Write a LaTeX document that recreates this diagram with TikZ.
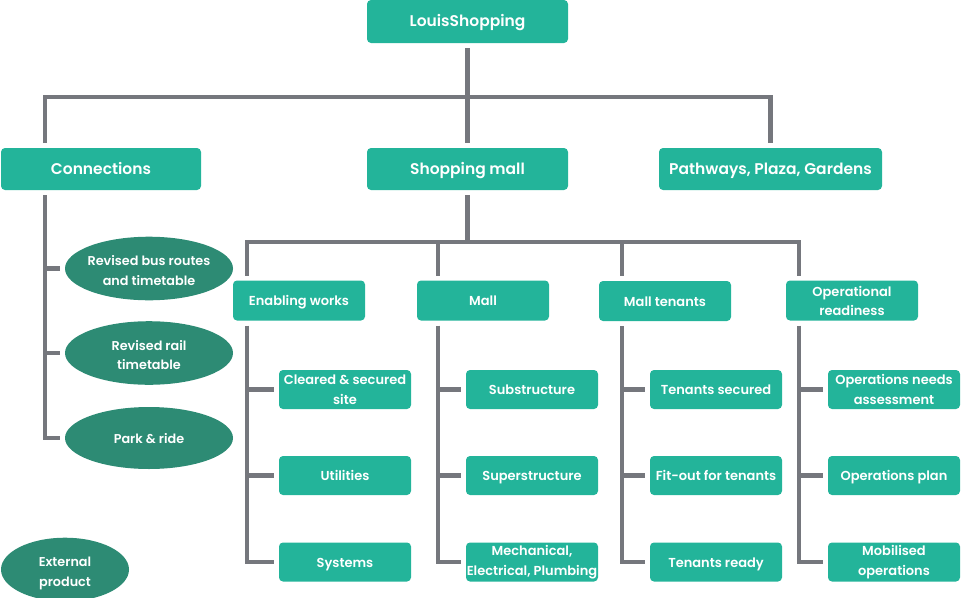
\documentclass[tikz,border=0pt]{standalone}
\usepackage{fontspec}
\setmainfont{Poppins}[UprightFont={* SemiBold}]
\usetikzlibrary{shapes.geometric}
\definecolor{boxc}{HTML}{23B49A}
\definecolor{ellc}{HTML}{2D8B74}
\definecolor{linec}{HTML}{75777D}
\newcommand{\tl}[2]{\makebox[0pt]{\begin{tabular}{@{}c@{}}\rule{0pt}{19.6pt}#1\\#2\end{tabular}}}
\tikzset{
  box/.style={fill=boxc, rounded corners=4pt, text=white, inner sep=0pt, outer sep=5pt, align=center},
  one/.style={text height=1.05em, text depth=0em},
  big/.style={box, one, minimum height=42pt, font=\fontsize{15.5}{18}\selectfont},
  mid/.style={box, minimum width=132pt, minimum height=40pt, font=\fontsize{13}{19}\selectfont},
  leaf/.style={box, minimum width=132pt, minimum height=39pt, font=\fontsize{13}{19.5}\selectfont},
  ext/.style={ellipse, fill=ellc, text=white, inner sep=0pt, outer sep=5pt, font=\fontsize{12.8}{19.5}\selectfont},
  link/.style={draw=linec, line width=4.6pt},
}
\begin{document}
\begin{tikzpicture}[x=1pt,y=-1pt]
\useasboundingbox (0,0) rectangle (961,597);
% level 1 and 2
\node[big, minimum width=201pt, minimum height=43pt] (top) at (467.5,21.5) {LouisShopping};
\node[big, minimum width=200pt] (conn) at (101,169) {Connections};
\node[big, minimum width=201pt] (sm) at (467.5,169) {Shopping mall};
\node[big, minimum width=223pt] (pp) at (770.5,169) {Pathways, Plaza, Gardens};
% level 3
\node[mid, one] (ew) at (299,300.5) {Enabling works};
\node[mid, one] (mall) at (483,300.5) {Mall};
\node[mid, one] (mt) at (665,301) {Mall tenants};
\node[mid] (or) at (852,300.5) {Operational\\readiness};
% leaves
\node[leaf] (e1) at (345,389.5) {Cleared \& secured\\site};
\node[leaf, one] (e2) at (345,475.5) {Utilities};
\node[leaf, one] (e3) at (345,562) {Systems};
\node[leaf, one] (m1) at (532,389.5) {Substructure};
\node[leaf, one] (m2) at (532,475.5) {Superstructure};
\node[leaf] (m3) at (532,562) {Mechanical,\\Electrical, Plumbing};
\node[leaf, one] (t1) at (716,389.5) {Tenants secured};
\node[leaf, one] (t2) at (716,475.5) {Fit-out for tenants};
\node[leaf, one] (t3) at (716,562) {Tenants ready};
\node[leaf] (o1) at (894,389.5) {Operations needs\\assessment};
\node[leaf, one] (o2) at (894,475.5) {Operations plan};
\node[leaf] (o3) at (894,562) {Mobilised\\operations};
% ellipses
\node[ext, minimum width=168pt, minimum height=63pt] (x1) at (149,268.5) {\tl{Revised bus routes}{and timetable}};
\node[ext, minimum width=168pt, minimum height=62pt] (x2) at (149,353) {\tl{Revised rail}{timetable}};
\node[ext, one, minimum width=168pt, minimum height=62pt] (x3) at (149,438) {\makebox[0pt]{Park \& ride}};
\node[ext, minimum width=128pt, minimum height=55pt] (xp) at (65,569.5) {\tl{External}{product}};
% bus coordinates
\coordinate (b1) at (45,97);
\coordinate (b2) at (770.5,97);
\coordinate (s1) at (247,242);
\coordinate (s2) at (438,242);
\coordinate (s3) at (622,242);
\coordinate (s4) at (799,242);
% connectors
\draw[link] (top.south) -- (sm.north);
\draw[link] (b1 |- conn.north) -- (b1) -- (b2) -- (b2 |- pp.north);
\draw[link] (sm.south) -- (sm.south |- s1);
\draw[link] (s1 |- ew.north) -- (s1) -- (s4) -- (s4 |- or.north);
\draw[link] (s2) -- (s2 |- mall.north);
\draw[link] (s3) -- (s3 |- mt.north);
% spines
\draw[link] (b1 |- conn.south) |- (x3.west);
\draw[link] (b1 |- x1.west) -- (x1.west);
\draw[link] (b1 |- x2.west) -- (x2.west);
\draw[link] (s1 |- ew.south) |- (e3.west);
\draw[link] (s1 |- e1.west) -- (e1.west);
\draw[link] (s1 |- e2.west) -- (e2.west);
\draw[link] (s2 |- mall.south) |- (m3.west);
\draw[link] (s2 |- m1.west) -- (m1.west);
\draw[link] (s2 |- m2.west) -- (m2.west);
\draw[link] (s3 |- mt.south) |- (t3.west);
\draw[link] (s3 |- t1.west) -- (t1.west);
\draw[link] (s3 |- t2.west) -- (t2.west);
\draw[link] (s4 |- or.south) |- (o3.west);
\draw[link] (s4 |- o1.west) -- (o1.west);
\draw[link] (s4 |- o2.west) -- (o2.west);
\end{tikzpicture}
\end{document}
